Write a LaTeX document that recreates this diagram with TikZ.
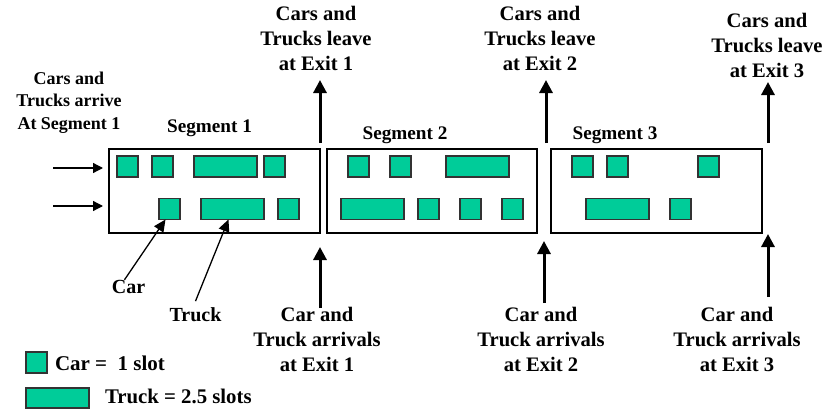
\documentclass[tikz,border=0pt]{standalone}
\usepackage{fontspec}
\setmainfont{Liberation Serif}
\usetikzlibrary{arrows.meta}
\definecolor{slotgreen}{HTML}{00CC99}
\begin{document}
\begin{tikzpicture}[x=0.5pt,y=-0.5pt,
  every node/.style={inner sep=0pt,outer sep=0pt},
  segbox/.style={draw=black,line width=1pt,minimum height=42pt,minimum width=105.5pt},
  carbox/.style={fill=slotgreen,draw=black!80,line width=0.6pt,minimum width=10.5pt,minimum height=10.5pt},
  truckbox/.style={carbox,minimum width=31.5pt},
  lbl/.style={align=center,font=\bfseries\fontsize{10.3pt}{12.6pt}\selectfont},
  seglbl/.style={anchor=base,font=\bfseries\fontsize{9.6pt}{11.5pt}\selectfont},
  exitarrow/.style={line width=1.5pt,-{Triangle[length=6.5pt,width=6.5pt]}},
  inarrow/.style={line width=0.65pt,-{Triangle[length=5pt,width=5pt]}},
  pointer/.style={line width=0.65pt,-{Triangle[length=6pt,width=5.5pt]}}]
\useasboundingbox (0,0) rectangle (831,412);

% road segments
\node[segbox] (seg1) at (214.5,191) {};
\node[segbox,minimum width=105pt] (seg2) at (432,191) {};
\node[segbox] (seg3) at (656.5,191) {};

\node[seglbl] (s1) at (209.5,132) {Segment 1};
\node[seglbl] (s2) at (405,139) {Segment 2};
\node[seglbl] (s3) at (615,139) {Segment 3};

% vehicles, segment 1
\node[carbox] (a11) at (127.5,166.5) {};
\node[carbox] (a12) at (162.5,166.5) {};
\node[truckbox] (a13) at (225.5,166.5) {};
\node[carbox] (a14) at (274.5,166.5) {};
\node[carbox] (b11) at (169.5,209) {};
\node[truckbox] (b12) at (232.5,209) {};
\node[carbox] (b13) at (288.5,209) {};
% vehicles, segment 2
\node[carbox] (a21) at (358.5,166.5) {};
\node[carbox] (a22) at (400.5,166.5) {};
\node[truckbox] (a23) at (477.5,166.5) {};
\node[truckbox] (b21) at (372.5,209) {};
\node[carbox] (b22) at (428.5,209) {};
\node[carbox] (b23) at (470.5,209) {};
\node[carbox] (b24) at (512.5,209) {};
% vehicles, segment 3
\node[carbox] (a31) at (582.5,166.5) {};
\node[carbox] (a32) at (617.5,166.5) {};
\node[carbox] (a33) at (708.5,166.5) {};
\node[truckbox] (b31) at (617.5,209) {};
\node[carbox] (b32) at (680.5,209) {};

% arrivals at segment 1
\node[lbl,anchor=north,font=\bfseries\fontsize{9pt}{11.25pt}\selectfont] (arr) at (69,72)
  {Cars and\\Trucks arrive\\At Segment 1};
\coordinate (in1) at (53,168);
\coordinate (in1e) at (103,168);
\coordinate (in2) at (53,206);
\coordinate (in2e) at (103,206);
\draw[inarrow] (in1) -- (in1e);
\draw[inarrow] (in2) -- (in2e);

% exits: departures above, arrivals below
\node[lbl,anchor=north] (out1) at (316,6) {Cars and\\Trucks leave\\at Exit 1};
\node[lbl,anchor=north] (out2) at (540,6) {Cars and\\Trucks leave\\at Exit 2};
\node[lbl,anchor=north] (out3) at (767,13) {Cars and\\Trucks leave\\at Exit 3};
\coordinate (o1a) at (320,143); \coordinate (o1b) at (320,80);
\coordinate (o2a) at (546,143); \coordinate (o2b) at (546,80);
\coordinate (o3a) at (768,143); \coordinate (o3b) at (768,82);
\draw[exitarrow] (o1a) -- (o1b);
\draw[exitarrow] (o2a) -- (o2b);
\draw[exitarrow] (o3a) -- (o3b);

\node[lbl,anchor=north] (ent1) at (317,307) {Car and\\Truck arrivals\\at Exit 1};
\node[lbl,anchor=north] (ent2) at (541,307) {Car and\\Truck arrivals\\at Exit 2};
\node[lbl,anchor=north] (ent3) at (737,307) {Car and\\Truck arrivals\\at Exit 3};
\coordinate (i1a) at (320,308); \coordinate (i1b) at (320,247);
\coordinate (i2a) at (544,303); \coordinate (i2b) at (544,241);
\coordinate (i3a) at (768,297); \coordinate (i3b) at (768,234);
\draw[exitarrow] (i1a) -- (i1b);
\draw[exitarrow] (i2a) -- (i2b);
\draw[exitarrow] (i3a) -- (i3b);

% pointers to a car and a truck
\node[lbl,anchor=base,font=\bfseries\fontsize{10pt}{12pt}\selectfont] (carl) at (128.5,293) {Car};
\node[lbl,anchor=base,font=\bfseries\fontsize{10pt}{12pt}\selectfont] (truckl) at (195.5,321) {Truck};
\draw[pointer] ([xshift=-2pt]carl.north) -- ([xshift=-2pt]b11.south);
\draw[pointer] ([yshift=3pt]truckl.north) -- ([xshift=-2pt]b12.south);

% legend
\node[carbox] (lc) at (36.5,362.5) {};
\node[truckbox,minimum height=10pt] (lt) at (57.5,398) {};
\node[anchor=base west,font=\bfseries\fontsize{10.5pt}{12pt}\selectfont] (lct) at (55,370) {Car =\ \ 1 slot};
\node[anchor=base west,font=\bfseries\fontsize{10.4pt}{12pt}\selectfont] (ltt) at (105,403) {Truck = 2.5 slots};
\end{tikzpicture}
\end{document}
